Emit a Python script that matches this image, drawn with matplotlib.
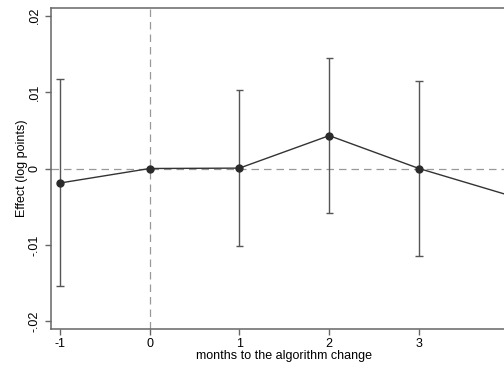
import numpy as np
import matplotlib
matplotlib.use('Agg')
import matplotlib.pyplot as plt

plt.rcParams['font.family'] = ['Liberation Sans', 'DejaVu Sans']

# event-study estimates, months relative to the algorithm change
months = [-1, 0, 1, 2, 3, 4]
effect = [-0.0019, 0.0, 0.00005, 0.0043, 0.0, -0.0035]
ci_low = [-0.0154, np.nan, -0.0102, -0.0058, -0.0115, np.nan]
ci_high = [0.0117, np.nan, 0.0103, 0.0145, 0.0115, np.nan]

y_ticks = [-0.02, -0.01, 0.0, 0.01, 0.02]
y_tick_labels = ['-.02', '-.01', '0', '.01', '.02']
x_ticks = [-1, 0, 1, 2, 3]

fig = plt.figure(figsize=(5.04, 3.66), dpi=100)
# axes runs past the right edge of the figure, so the last month is cut off
ax = fig.add_axes([51 / 504, 37 / 366, 466.7 / 504, 321 / 366])

ax.axhline(0, color='#999999', linestyle=(0, (6, 4)), linewidth=0.9, zorder=1)
ax.axvline(0, color='#999999', linestyle=(0, (6, 4)), linewidth=0.9, zorder=1)

lo = np.array(ci_low)
hi = np.array(ci_high)
m = np.array(months)
ok = ~np.isnan(lo)
ax.vlines(m[ok], lo[ok], hi[ok], color='#555555', linewidth=1.0, zorder=2)
ax.hlines(lo[ok], m[ok] - 0.04, m[ok] + 0.04, color='#555555', linewidth=1.0, zorder=2)
ax.hlines(hi[ok], m[ok] - 0.04, m[ok] + 0.04, color='#555555', linewidth=1.0, zorder=2)

ax.plot(months, effect, color='#333333', linewidth=1.0, marker='o',
        markersize=5, markerfacecolor='#2b2b2b', markeredgecolor='#2b2b2b', zorder=3)

ax.set_xlim(-1.1, 4.1)
ax.set_ylim(-0.021, 0.021)
ax.set_xticks(x_ticks)
ax.set_xticklabels([str(x) for x in x_ticks])
ax.set_yticks(y_ticks)
ax.set_yticklabels(y_tick_labels, rotation=90, va='center')

for side in ['left', 'bottom', 'top']:
    ax.spines[side].set_color('#666666')
    ax.spines[side].set_linewidth(1.1)
ax.spines['right'].set_visible(False)
ax.tick_params(colors='#666666', labelcolor='black', labelsize=9, length=4.3, width=1)
ax.tick_params(axis='y', pad=3)
ax.tick_params(axis='x', pad=2.5)

ax.set_xlabel('months to the algorithm change', fontsize=9, labelpad=0)
ax.set_ylabel('Effect (log points)', fontsize=9, va='center')
ax.yaxis.set_label_coords(-0.062, 0.5)

fig.savefig('out.png', dpi=100)
